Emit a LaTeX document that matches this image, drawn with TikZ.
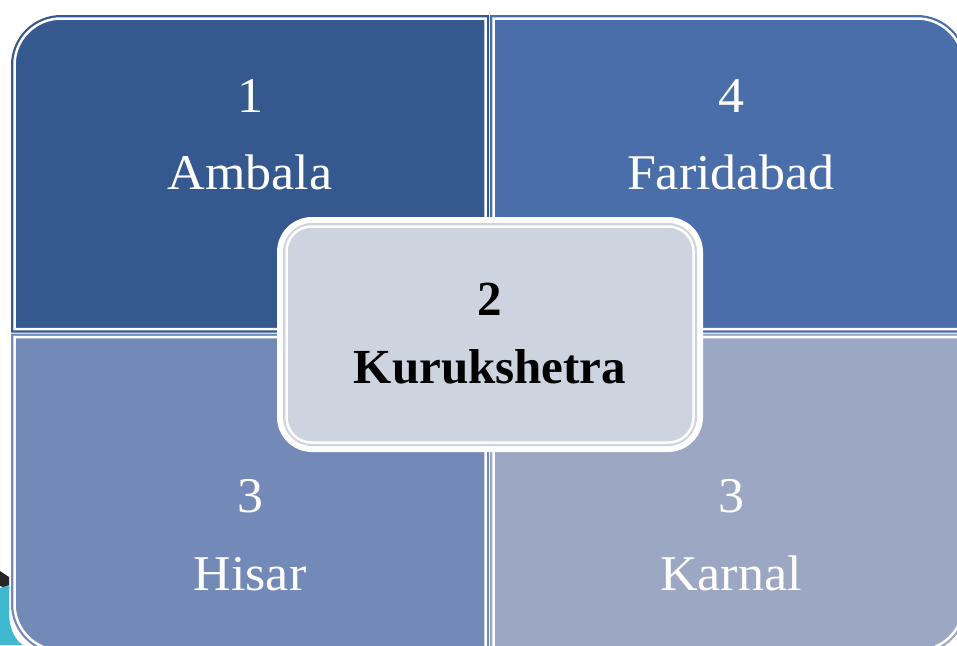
\documentclass[tikz,border=0pt]{standalone}
\usepackage{fontspec}
\setmainfont{Liberation Serif}
\newfontfamily\widefont[FakeStretch=1.04]{Liberation Serif}
\definecolor{qTLc}{RGB}{53,89,142}
\definecolor{qTRc}{RGB}{74,110,170}
\definecolor{qBLc}{RGB}{115,137,183}
\definecolor{qBRc}{RGB}{156,168,195}
\definecolor{midc}{RGB}{206,211,224}
\definecolor{tealc}{RGB}{64,184,208}
\tikzset{
  rTL/.style n args={5}{insert path={({#1},{#2+#5}) .. controls ({#1},{#2+0.4477*#5}) and ({#1+0.4477*#5},{#2}) .. ({#1+#5},{#2}) -- ({#3},{#2}) -- ({#3},{#4}) -- ({#1},{#4}) -- cycle}},
  rTR/.style n args={5}{insert path={({#1},{#2}) -- ({#3-#5},{#2}) .. controls ({#3-0.4477*#5},{#2}) and ({#3},{#2+0.4477*#5}) .. ({#3},{#2+#5}) -- ({#3},{#4}) -- ({#1},{#4}) -- cycle}},
  rBL/.style n args={5}{insert path={({#1},{#2}) -- ({#3},{#2}) -- ({#3},{#4}) -- ({#1+#5},{#4}) .. controls ({#1+0.4477*#5},{#4}) and ({#1},{#4-0.4477*#5}) .. ({#1},{#4-#5}) -- cycle}},
  rBR/.style n args={5}{insert path={({#1},{#2}) -- ({#3},{#2}) -- ({#3},{#4-#5}) .. controls ({#3},{#4-0.4477*#5}) and ({#3-0.4477*#5},{#4}) .. ({#3-#5},{#4}) -- ({#1},{#4}) -- cycle}},
  inline/.style={draw=white, line width=2.5pt},
  qtext/.style={text=white, font=\widefont\fontsize{50}{60}\selectfont, anchor=base, inner sep=0pt},
  mtext/.style={text=black, font=\fontsize{49}{58}\selectfont\bfseries, anchor=base, inner sep=0pt},
}
\begin{document}
\begin{tikzpicture}[x=1pt,y=-1pt]
\useasboundingbox (0,0) rectangle (957,645);
\clip (0,0) rectangle (957,645);
\fill[white] (0,0) rectangle (957,645);
% background fragment at bottom-left
\fill[black!85] (0,571) -- (9,577) -- (9,589) -- (0,586) -- cycle;
\fill[tealc] (0,588) -- (9,585) -- (9,615) .. controls (10,630) and (15,640) .. (23,645) -- (0,645) -- cycle;
% quadrants
\fill[qTLc, rTL={11}{15}{489}{332.5}{50}];
\path[inline, rTL={14.5}{18.5}{485.5}{329}{46.5}];
\fill[qTRc, rTR={490}{15}{967}{332.5}{50}];
\path[inline, rTR={493.5}{18.5}{963.5}{329}{46.5}];
\fill[qBLc, rBL={11}{333.5}{489}{654}{50}];
\path[inline, rBL={14.5}{337}{485.5}{650.5}{46.5}];
\fill[qBRc, rBR={490}{333.5}{967}{654}{50}];
\path[inline, rBR={493.5}{337}{963.5}{650.5}{46.5}];
% centre box
\fill[white, rounded corners=35pt] (277,217) rectangle (703,452);
\fill[midc, rounded corners=29pt] (283,223) rectangle (697,446);
\draw[white, line width=2.5pt, rounded corners=25pt] (286.5,226.5) rectangle (693.5,442.5);
% texts
\node[qtext] (n1) at (250,112) {1};
\node[qtext] (t1) at (250,189) {Ambala};
\node[qtext] (n4) at (731,112) {4};
\node[qtext] (t4) at (731,189) {Faridabad};
\node[qtext] (n3a) at (250,512) {3};
\node[qtext] (t3a) at (250,590) {Hisar};
\node[qtext] (n3b) at (731,512) {3};
\node[qtext] (t3b) at (731,590) {Karnal};
\node[mtext] (n2) at (490,315) {2};
\node[mtext] (t2) at (490,383) {Kurukshetra};
\end{tikzpicture}
\end{document}
